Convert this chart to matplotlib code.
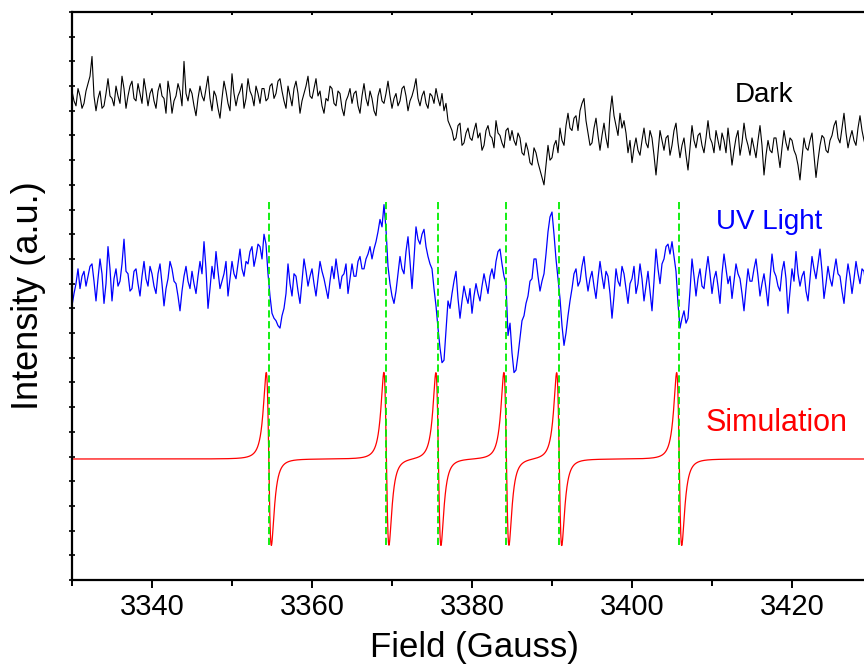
import numpy as np
import matplotlib
matplotlib.use("Agg")
import matplotlib.pyplot as plt
from matplotlib.ticker import MultipleLocator, NullFormatter

# field scan: 3330 .. 3429.75 G, 0.25 G step (one row below = 5 G)
FIELD_START = 3330.0
FIELD_STEP = 0.25

DARK = [
    19.8, 19.4, 19.2, 19.9, 19.6, 19.1, 19.3, 19.8, 20.1, 20.4, 21.2, 19.6, 19.0, 19.5, 19.8, 19.1, 19.2, 19.7, 20.3, 19.6,
    19.5, 19.2, 20.0, 19.6, 19.3, 20.4, 19.9, 19.1, 19.6, 20.0, 20.2, 19.5, 19.4, 20.1, 19.7, 19.3, 20.3, 19.8, 19.2, 19.7,
    19.9, 19.4, 19.1, 19.8, 20.1, 19.6, 19.5, 18.9, 20.2, 19.7, 18.9, 19.4, 19.6, 20.1, 19.8, 19.2, 21.0, 19.7, 19.4, 19.9,
    19.7, 19.2, 18.8, 19.5, 20.0, 19.6, 19.4, 19.9, 20.4, 19.5, 19.0, 19.8, 19.6, 19.1, 18.7, 19.5, 20.2, 19.8, 19.3, 19.0,
    20.5, 19.7, 19.2, 19.6, 19.8, 20.1, 19.1, 19.5, 20.3, 19.8, 19.6, 19.2, 20.0, 19.7, 19.3, 19.9, 19.9, 19.4, 19.5, 20.0,
    20.1, 19.5, 19.7, 20.2, 20.3, 19.8, 19.4, 19.1, 20.0, 19.6, 19.2, 19.9, 20.2, 19.7, 18.9, 19.4, 19.7, 20.0, 20.4, 19.6,
    19.5, 19.9, 20.3, 19.6, 19.8, 19.2, 18.9, 19.5, 19.4, 20.0, 19.9, 19.3, 19.2, 19.8, 19.7, 19.1, 18.8, 19.4, 19.6, 19.9,
    19.3, 19.7, 19.8, 19.2, 18.9, 19.6, 20.1, 19.5, 19.2, 19.8, 19.5, 19.0, 18.8, 19.6, 19.9, 19.4, 19.3, 19.7, 20.2, 19.6,
    19.1, 19.5, 19.7, 19.2, 19.4, 19.9, 20.0, 19.6, 19.0, 19.4, 19.6, 19.9, 20.3, 19.5, 19.2, 19.6, 19.8, 19.3, 19.1, 19.7,
    19.6, 19.3, 19.9, 19.5, 19.2, 19.7, 19.0, 19.3, 18.6, 18.4, 18.2, 17.8, 17.9, 18.4, 18.5, 17.6, 17.7, 18.1, 18.3, 17.9,
    17.8, 18.2, 18.5, 17.9, 18.1, 17.4, 17.6, 18.2, 18.4, 18.0, 17.9, 17.5, 18.6, 18.1, 18.0, 17.7, 17.5, 18.2, 18.3, 17.8,
    18.2, 17.8, 17.6, 18.1, 17.9, 17.3, 17.2, 17.7, 17.4, 16.9, 16.8, 17.5, 17.3, 16.9, 16.6, 16.3, 16.0, 16.8, 17.6, 17.0,
    17.1, 17.6, 17.8, 17.3, 18.3, 17.8, 17.6, 18.4, 18.9, 18.3, 18.2, 18.7, 18.8, 18.2, 19.0, 19.3, 19.5, 18.6, 18.1, 17.6,
    17.7, 18.3, 18.7, 18.0, 17.4, 18.0, 18.5, 17.9, 17.5, 18.9, 19.6, 18.8, 18.4, 18.0, 18.9, 18.3, 18.6, 18.1, 17.3, 17.8,
    16.9, 17.5, 17.9, 17.4, 17.2, 17.8, 18.3, 17.7, 17.5, 18.2, 17.9, 17.2, 16.4, 17.3, 18.2, 17.8, 17.4, 17.9, 18.0, 17.2,
    17.6, 18.2, 18.5, 17.7, 17.1, 17.6, 17.9, 17.2, 16.6, 17.5, 18.4, 17.8, 17.5, 18.0, 18.1, 17.6, 17.3, 17.9, 18.6, 17.9,
    17.7, 17.3, 18.2, 17.8, 17.4, 18.1, 17.8, 17.3, 18.3, 17.6, 16.8, 17.4, 17.9, 18.2, 17.2, 17.7, 18.5, 17.9, 17.6, 17.2,
    17.9, 17.5, 17.1, 17.8, 18.4, 17.6, 16.4, 17.2, 17.8, 17.4, 17.3, 17.9, 17.9, 17.3, 16.7, 17.5, 18.2, 17.7, 17.4, 17.9,
    17.8, 17.4, 17.2, 16.8, 16.2, 17.1, 17.9, 17.5, 17.4, 17.8, 18.1, 17.2, 16.3, 17.0, 17.6, 18.0, 17.9, 17.4, 17.3, 17.8,
    18.0, 18.4, 18.6, 17.9, 17.7, 18.3, 18.9, 18.1, 17.5, 17.9, 18.2, 17.8, 17.6, 18.3, 18.8, 18.2, 17.8, 17.5, 18.3, 18.0,
]

UV_LIGHT = [
    11.1, 11.6, 12.0, 12.6, 11.8, 12.3, 12.5, 11.9, 12.3, 12.7, 12.8, 12.1, 11.3, 12.2, 13.0, 12.4, 11.2, 12.0, 13.5, 12.6,
    11.3, 12.2, 12.6, 11.9, 12.1, 12.8, 13.8, 12.5, 12.4, 11.7, 11.8, 12.5, 12.6, 12.0, 11.5, 12.3, 12.9, 12.2, 11.9, 12.7,
    12.4, 11.9, 11.6, 12.4, 12.8, 12.0, 11.1, 11.8, 12.2, 12.9, 12.6, 12.1, 12.0, 11.5, 10.9, 11.7, 12.3, 12.7, 12.1, 11.8,
    12.5, 12.0, 11.6, 12.3, 12.9, 12.4, 13.7, 12.6, 11.0, 11.8, 12.7, 12.2, 13.3, 12.5, 11.8, 12.1, 12.4, 12.9, 11.5, 12.2,
    12.9, 12.4, 12.2, 12.8, 13.4, 12.6, 12.3, 12.9, 12.8, 13.3, 13.5, 12.7, 13.1, 13.6, 13.5, 13.0, 14.0, 13.6, 12.4, 11.5,
    10.8, 10.6, 10.5, 10.3, 10.2, 10.7, 11.0, 11.6, 12.8, 12.0, 11.5, 12.4, 12.3, 11.7, 11.2, 12.1, 13.0, 12.5, 11.9, 12.3,
    12.6, 12.0, 11.5, 12.2, 12.9, 12.5, 12.2, 11.8, 11.4, 12.1, 12.7, 12.2, 13.0, 12.4, 11.8, 12.3, 12.4, 12.8, 11.6, 12.2,
    12.8, 12.3, 12.3, 12.9, 13.1, 12.6, 12.6, 13.0, 13.2, 13.5, 13.0, 13.4, 13.7, 14.1, 14.6, 14.3, 15.2, 14.2, 12.7, 12.0,
    11.5, 11.2, 11.7, 12.4, 13.1, 12.6, 12.4, 13.3, 13.9, 12.9, 11.8, 13.0, 14.3, 13.8, 13.6, 14.0, 14.2, 13.5, 13.1, 12.8,
    12.6, 11.8, 11.1, 10.2, 9.4, 8.8, 8.9, 10.1, 11.3, 11.0, 11.6, 12.1, 12.5, 11.4, 10.6, 11.3, 11.9, 11.5, 11.2, 11.8,
    10.8, 11.5, 12.0, 11.6, 11.3, 11.9, 12.4, 12.0, 11.6, 12.3, 12.6, 12.2, 12.9, 13.3, 13.4, 12.8, 12.3, 12.0, 9.9, 10.4,
    9.2, 8.4, 8.5, 9.1, 9.8, 10.5, 10.7, 11.2, 11.5, 12.1, 12.2, 13.0, 13.0, 12.3, 11.7, 12.1, 12.4, 13.2, 14.1, 14.7,
    14.9, 14.0, 13.0, 12.2, 11.4, 10.3, 9.5, 10.0, 10.7, 11.3, 11.8, 12.4, 12.6, 11.9, 12.1, 12.7, 13.1, 12.3, 11.7, 12.2,
    12.5, 11.9, 11.4, 12.2, 12.9, 12.3, 11.8, 12.5, 12.3, 11.6, 10.6, 11.5, 12.6, 12.1, 11.9, 12.7, 12.4, 11.8, 11.2, 12.0,
    12.2, 12.7, 11.6, 12.0, 12.8, 12.2, 11.3, 11.9, 12.5, 11.7, 10.9, 12.1, 13.4, 12.6, 12.0, 12.8, 13.0, 13.5, 13.6, 13.2,
    13.7, 13.1, 12.5, 11.2, 10.2, 10.6, 10.9, 10.4, 10.6, 11.7, 13.0, 12.3, 11.5, 12.2, 12.6, 11.9, 11.8, 12.5, 13.1, 12.4,
    11.6, 12.2, 12.5, 11.9, 11.2, 12.4, 13.2, 12.6, 12.0, 12.3, 11.4, 12.1, 12.8, 12.4, 12.2, 11.6, 10.9, 11.8, 12.6, 12.1,
    12.1, 12.6, 13.0, 12.3, 11.5, 12.0, 12.4, 11.8, 11.1, 12.2, 13.2, 12.5, 12.3, 11.9, 11.7, 12.5, 12.9, 12.2, 10.8, 11.7,
    12.6, 12.1, 13.3, 12.4, 11.9, 12.3, 12.5, 11.7, 11.3, 12.2, 13.1, 12.6, 12.2, 12.8, 13.4, 12.5, 11.4, 12.0, 12.7, 12.2,
    11.9, 12.5, 13.0, 12.4, 12.3, 11.7, 11.2, 12.1, 12.8, 12.3, 11.6, 12.2, 12.9, 12.4, 12.0, 12.6, 12.5, 11.9, 12.2, 12.6,
]

# simulated spectrum: Lorentzian first-derivative lines
LINE_CENTERS = [3354.6, 3369.3, 3375.8, 3384.3, 3390.9, 3405.9]
LINE_WIDTH = 0.55      # half width, G
LINE_AMP = 3.5         # peak height above baseline
SIM_BASE = 4.9

GUIDE_TOP = 15.3
GUIDE_BOTTOM = 1.4

LABELS = ["Dark", "UV Light", "Simulation"]
LABEL_COLORS = ["black", "#0000ff", "#ff0000"]
LABEL_POS = [(3416.5, 19.64), (3417.1, 14.5), (3418.1, 6.36)]
LABEL_SIZES = [20, 20, 22]


def lorentz_deriv(b, centers, width, amp):
    y = np.zeros_like(b)
    norm = amp / (2 / np.sqrt(3) / (4 / 3) ** 2)
    for c in centers:
        u = (b - c) / width
        y += -2 * u / (1 + u ** 2) ** 2
    return y * norm


def main():
    plt.rcParams["font.family"] = ["Liberation Sans", "DejaVu Sans"]

    field = FIELD_START + FIELD_STEP * np.arange(len(DARK))
    b_sim = np.arange(3330.0, 3430.0, 0.01)
    sim = SIM_BASE + lorentz_deriv(b_sim, LINE_CENTERS, LINE_WIDTH, LINE_AMP)

    fig = plt.figure(figsize=(8.64, 6.68), dpi=100)
    ax = fig.add_axes([72 / 864, 88 / 668, 792 / 864, 568 / 668])

    ax.plot(field, DARK, color="black", lw=0.8)
    ax.plot(field, UV_LIGHT, color="#0000ff", lw=0.9)
    ax.plot(b_sim, sim, color="#ff0000", lw=0.9)
    ax.vlines(LINE_CENTERS, GUIDE_BOTTOM, GUIDE_TOP, colors="#00ee00",
              linestyles=(0, (4, 2)), lw=1.3, zorder=3)

    for text, color, (x, y), size in zip(LABELS, LABEL_COLORS, LABEL_POS, LABEL_SIZES):
        ax.text(x, y, text, color=color, fontsize=size, ha="center", va="center")

    ax.set_xlim(3330, 3429)
    ax.set_ylim(0, 23)
    ax.xaxis.set_major_locator(MultipleLocator(20))
    ax.xaxis.set_minor_locator(MultipleLocator(10))
    ax.yaxis.set_major_locator(MultipleLocator(1))
    ax.yaxis.set_major_formatter(NullFormatter())

    for side in ["left", "bottom", "top"]:
        ax.spines[side].set_linewidth(1.6)
    ax.spines["right"].set_visible(False)
    ax.tick_params(axis="x", which="major", direction="out", length=5.5, width=1.4,
                   labelsize=21, pad=4, top=True)
    ax.tick_params(axis="x", which="minor", direction="out", length=4, width=1.4, top=True)
    ax.tick_params(axis="y", which="major", direction="inout", length=4, width=1.2)
    # top ticks point inward
    for t in ax.xaxis.get_major_ticks() + ax.xaxis.get_minor_ticks():
        t.tick2line.set_marker(3)
        t.tick2line.set_markersize(2.5)

    ax.set_xlabel("Field (Gauss)", fontsize=25)
    ax.set_ylabel("Intensity (a.u.)", fontsize=26)
    ax.xaxis.set_label_coords((474 - 72) / 792, -0.09)
    ax.yaxis.set_label_coords(-0.033, 0.5)

    fig.savefig("out.png", dpi=100)


if __name__ == "__main__":
    main()
